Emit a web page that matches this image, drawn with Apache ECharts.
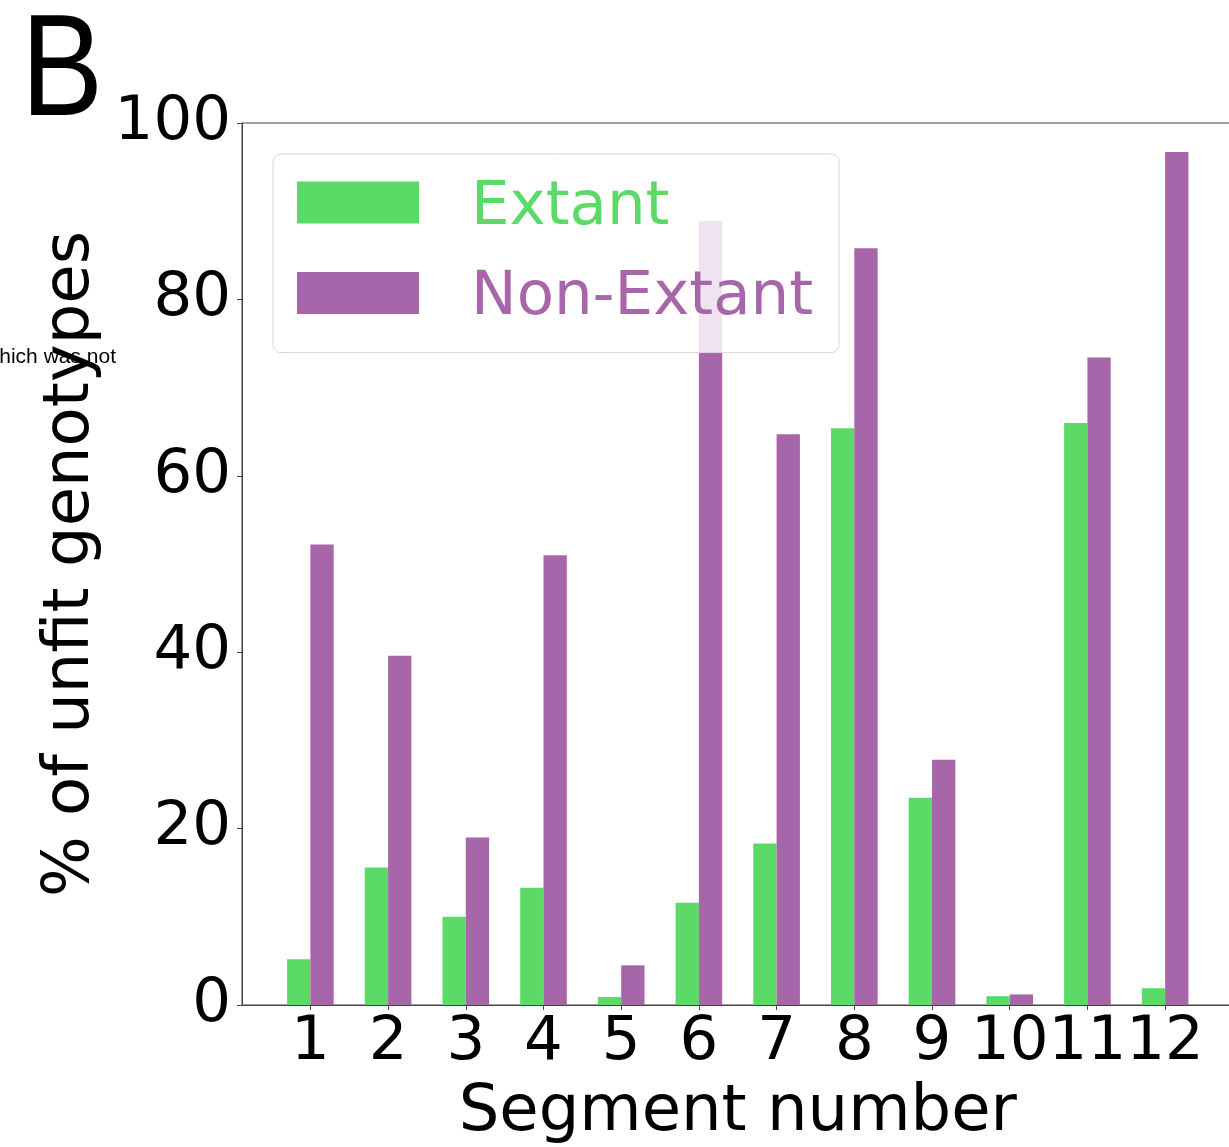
<!DOCTYPE html>
<html>
<head>
<meta charset="utf-8">
<script src="https://cdn.jsdelivr.net/npm/echarts@6/dist/echarts.min.js"></script>
<style>
  html, body { margin: 0; padding: 0; background: #ffffff; }
  #chart { width: 1229px; height: 1147px; }
</style>
</head>
<body>
<div id="chart"></div>
<script>
// Segment numbers and the share of unfit genotypes per segment (%)
const segments = [1, 2, 3, 4, 5, 6, 7, 8, 9, 10, 11, 12];
const extant = [5.2, 15.6, 10.0, 13.3, 0.9, 11.6, 18.3, 65.4, 23.5, 1.0, 66.0, 1.9];
const nonExtant = [52.2, 39.6, 19.0, 51.0, 4.5, 88.9, 64.7, 85.8, 27.8, 1.2, 73.4, 96.7];
const yTicks = [0, 20, 40, 60, 80, 100];

const GREEN = '#5cda68';
const PURPLE = '#a866aa';
const FONT = 'DejaVu Sans';
const AXIS = '#444444';

// the two bars of a segment sit side by side, each 0.3 wide, touching at the segment value
const barOffset = 0.15;
const extantData = segments.map((s, i) => [s - barOffset, extant[i]]);
const nonExtantData = segments.map((s, i) => [s + barOffset, nonExtant[i]]);

// legend swatch: a 122x42 block whose box reaches a little lower (empty point at y=53),
// so the label centre sits slightly below the swatch centre
const SWATCH = 'path://M0,0L122,0L122,42L0,42Z M0,53L0.01,53';

const chart = echarts.init(document.getElementById('chart'), null, { renderer: 'canvas' });

chart.setOption({
  backgroundColor: '#ffffff',
  animation: false,
  grid: {
    left: 242, top: 123, width: 991.5, bottom: 142,
    outerBoundsMode: 'none',
    containLabel: false,
    show: true, borderColor: AXIS, borderWidth: 1, backgroundColor: 'transparent'
  },
  legend: {
    orient: 'vertical',
    left: 273, top: 154,
    padding: [18, 26, 18, 24],
    itemWidth: 122, itemHeight: 53, itemGap: 18.6,
    icon: SWATCH,
    selectedMode: false,
    backgroundColor: 'rgba(255,255,255,0.82)',
    borderColor: '#d8d8d8', borderWidth: 1, borderRadius: 8,
    z: 10,
    textStyle: { fontFamily: FONT, fontSize: 61, lineHeight: 72, padding: [0, 0, 0, 47] },
    data: [
      { name: 'Extant', textStyle: { color: GREEN } },
      { name: 'Non-Extant', textStyle: { color: PURPLE } }
    ]
  },
  xAxis: {
    type: 'value',
    min: 0.12, max: 12.88,
    name: 'Segment number',
    nameLocation: 'middle',
    nameGap: 76,
    nameTextStyle: { fontFamily: FONT, fontSize: 64, color: '#000' },
    splitLine: { show: false },
    axisLine: { show: true, onZero: false, lineStyle: { color: AXIS, width: 1 } },
    axisTick: { show: true, length: 5, inside: false, customValues: segments, lineStyle: { color: AXIS } },
    axisLabel: {
      customValues: segments, interval: 0, margin: 8,
      showMinLabel: true, showMaxLabel: true, hideOverlap: false,
      fontFamily: FONT, fontSize: 61, color: '#000'
    }
  },
  yAxis: {
    type: 'value',
    min: 0, max: 100, interval: 20,
    name: '% of unfit genotypes',
    nameLocation: 'middle',
    nameRotate: 90,
    nameGap: 135,
    nameTextStyle: { fontFamily: FONT, fontSize: 64, color: '#000' },
    splitLine: { show: false },
    axisLine: { show: true, lineStyle: { color: AXIS, width: 1 } },
    axisTick: { show: true, length: 5, customValues: yTicks, lineStyle: { color: AXIS } },
    axisLabel: {
      customValues: yTicks, margin: 11, showMinLabel: true, showMaxLabel: true,
      fontFamily: FONT, fontSize: 61, color: '#000'
    }
  },
  graphic: [
    {
      type: 'text', x: 21, y: 3, scaleX: 0.85, originX: 0, originY: 0, z: 20,
      style: { text: 'B', fontFamily: 'Liberation Sans', fontSize: 145, fill: '#000', verticalAlign: 'top' }
    },
    {
      type: 'text', z: 20,
      style: {
        text: 'hich was not', x: 116, y: 357, align: 'right', verticalAlign: 'middle',
        fontFamily: 'Liberation Sans', fontSize: 21, fill: '#000'
      }
    }
  ],
  series: [
    {
      name: 'Extant', type: 'bar',
      data: extantData,
      barWidth: '100%', barGap: '-100%',
      itemStyle: { color: GREEN }
    },
    {
      name: 'Non-Extant', type: 'bar',
      data: nonExtantData,
      barWidth: '100%', barGap: '-100%',
      itemStyle: { color: PURPLE }
    }
  ]
});
</script>
</body>
</html>
